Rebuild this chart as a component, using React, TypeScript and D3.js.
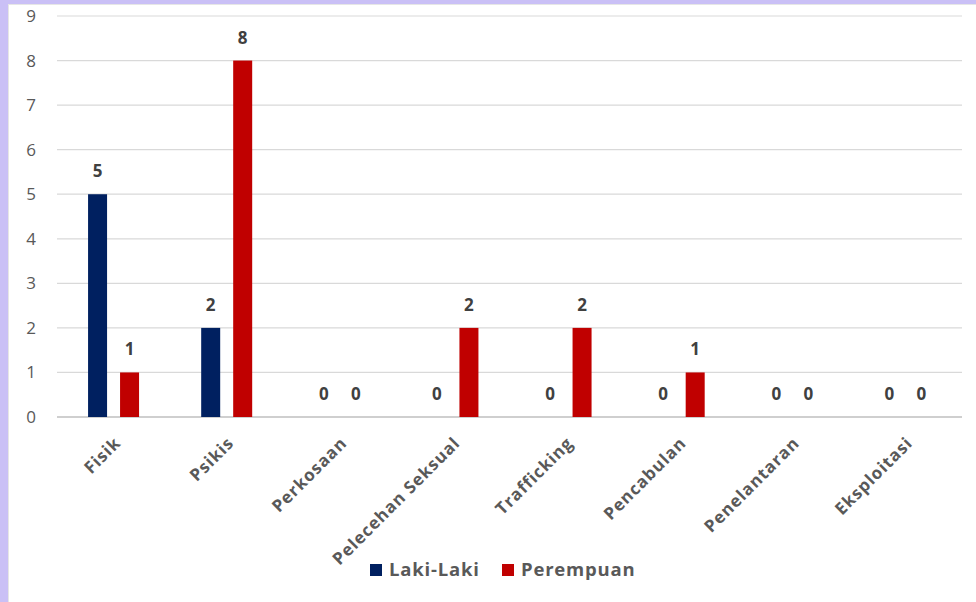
import React from "react";
import * as d3 from "d3";

const categories = ["Fisik", "Psikis", "Perkosaan", "Pelecehan Seksual", "Trafficking", "Pencabulan", "Penelantaran", "Eksploitasi"];
const lakiLaki = [5, 2, 0, 0, 0, 0, 0, 0];
const perempuan = [1, 8, 0, 2, 2, 1, 0, 0];
const seriesNames = ["Laki-Laki", "Perempuan"];
const seriesColors = ["#002060", "#C00000"];
const yTicks = [0, 1, 2, 3, 4, 5, 6, 7, 8, 9];

const W = 976;
const H = 602;
const FONT = "'Open Sans', 'DejaVu Sans', sans-serif";

export default function App() {
  const x0 = d3.scaleBand<string>().domain(categories).range([57, 962]).paddingInner(0).paddingOuter(0);
  const x1 = d3.scaleBand<string>().domain(seriesNames).range([-25.5, 25.5]).paddingInner(0.406).paddingOuter(0);
  const y = d3.scaleLinear().domain([0, 9]).range([417, 16]);
  const series = [lakiLaki, perempuan];

  return (
    <div style={{ position: "fixed", left: 0, top: 0, width: W, height: H }}>
      <svg width={W} height={H} style={{ display: "block", fontFamily: FONT }}>
        <rect x={0} y={0} width={W} height={H} fill="#ffffff" />
        <rect x={0} y={0} width={W} height={4} fill="#CAC0F6" />
        <rect x={0} y={0} width={8} height={H} fill="#CAC0F6" />
        <line x1={9} x2={W} y1={4.5} y2={4.5} stroke="#e6e6e6" />
        <line x1={8.5} x2={8.5} y1={4} y2={H} stroke="#e6e6e6" />

        {yTicks.map((t) => (
          <g key={t}>
            <line x1={57} x2={962} y1={y(t)} y2={y(t)} stroke={t === 0 ? "#bfbfbf" : "#d9d9d9"} strokeWidth={t === 0 ? 1.5 : 1.2} />
            <text x={36} y={y(t)} dy="0.35em" textAnchor="end" fontSize={17} fill="#595959">{t}</text>
          </g>
        ))}

        {categories.map((c, i) => {
          const cx = (x0(c) as number) + x0.bandwidth() / 2;
          return (
            <g key={c}>
              {series.map((s, j) => {
                const bx = cx + (x1(seriesNames[j]) as number);
                const v = s[i];
                return (
                  <g key={j}>
                    {v > 0 && (
                      <rect x={bx} y={y(v)} width={x1.bandwidth()} height={y(0) - y(v)} fill={seriesColors[j]} />
                    )}
                    <text x={bx + x1.bandwidth() / 2} y={y(v) - 23} dy="0.35em" textAnchor="middle" fontSize={17} fontWeight="bold" fill="#404040">{v}</text>
                  </g>
                );
              })}
              <text
                transform={`translate(${cx + 4},${440}) rotate(-45)`}
                textAnchor="end"
                dy="0.35em"
                fontSize={17}
                fontWeight="bold"
                letterSpacing={0.9}
                fill="#595959"
              >{c}</text>
            </g>
          );
        })}

        <g>
          <rect x={370} y={564} width={12} height={12} fill={seriesColors[0]} />
          <text x={389} y={570} dy="0.35em" fontSize={18.5} fontWeight="bold" letterSpacing={0.8} fill="#595959">{seriesNames[0]}</text>
          <rect x={502} y={564} width={12} height={12} fill={seriesColors[1]} />
          <text x={521} y={570} dy="0.35em" fontSize={18.5} fontWeight="bold" letterSpacing={0.8} fill="#595959">{seriesNames[1]}</text>
        </g>
      </svg>
    </div>
  );
}
